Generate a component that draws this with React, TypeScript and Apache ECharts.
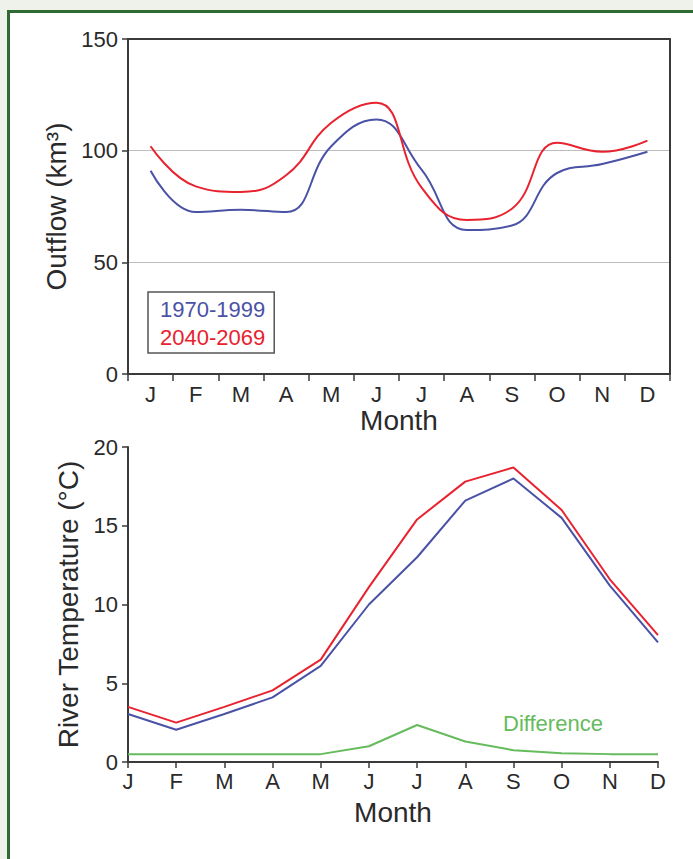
import React, { useEffect, useRef } from "react";
import * as echarts from "echarts";

const monthNames = ["Jan", "Feb", "Mar", "Apr", "May", "Jun", "Jul", "Aug", "Sep", "Oct", "Nov", "Dec"];
const monthLabels = ["J", "F", "M", "A", "M", "J", "J", "A", "S", "O", "N", "D"];

const periodNames = ["1970-1999", "2040-2069"];

// Outflow (km³)
const outflow1970 = [91, 72.5, 73.5, 72.5, 102, 114, 91.5, 64.5, 66.5, 90, 94, 99.5];
const outflow2040 = [102, 84, 81.5, 89, 112.5, 121.5, 83.5, 69, 74, 103.5, 99.5, 104.5];

// River temperature (°C)
const temp1970 = [3.05, 2.05, 3.05, 4.1, 6.1, 10.0, 13.0, 16.6, 18.0, 15.5, 11.2, 7.6];
const temp2040 = [3.5, 2.5, 3.5, 4.55, 6.5, 11.1, 15.4, 17.8, 18.7, 16.0, 11.6, 8.05];
const tempDiff = [0.5, 0.5, 0.5, 0.5, 0.5, 1.0, 2.35, 1.3, 0.75, 0.55, 0.5, 0.5];

const BLUE = "#4a52a6";
const RED = "#e8222f";
const GREEN = "#66bb5c";
const AXIS = "#3a3a3a";
const TEXT = "#2a2a2a";
const FONT = "'Liberation Sans', Arial, Helvetica, sans-serif";

export default function App() {
  const ref = useRef<HTMLDivElement>(null);

  useEffect(() => {
    if (!ref.current) return;
    const chart = echarts.init(ref.current, undefined, { renderer: "svg" });
    const axisLine = { show: true, onZero: false, lineStyle: { color: AXIS, width: 2 } };
    const tickStyle = { color: AXIS, width: 1.5 };
    const labelStyle = { color: TEXT, fontSize: 22, fontFamily: FONT };
    const nameStyle = { color: TEXT, fontSize: 28, fontFamily: FONT };

    chart.setOption({
      animation: false,
      backgroundColor: "transparent",
      textStyle: { fontFamily: FONT },
      grid: [
        { left: 128, top: 39, width: 542, height: 335, containLabel: false },
        { left: 128, top: 447, width: 530, height: 315, containLabel: false },
      ],
      legend: {
        left: 148,
        top: 292,
        orient: "vertical",
        icon: "rect",
        itemWidth: 0,
        itemHeight: 0,
        itemGap: 6,
        padding: [6, 9, 5, 7],
        borderColor: "#555",
        borderWidth: 1.5,
        backgroundColor: "#fff",
        selectedMode: false,
        textStyle: { fontSize: 22, fontFamily: FONT },
        data: [
          { name: periodNames[0], textStyle: { color: BLUE } },
          { name: periodNames[1], textStyle: { color: RED } },
        ],
      },
      xAxis: [
        {
          type: "category",
          gridIndex: 0,
          data: monthNames,
          boundaryGap: true,
          name: "Month",
          nameLocation: "middle",
          nameGap: 32,
          nameTextStyle: nameStyle,
          axisLine,
          axisTick: { show: true, length: 7, lineStyle: tickStyle },
          axisLabel: { ...labelStyle, margin: 9, formatter: (_v: string, i: number) => monthLabels[i] },
          splitLine: { show: false },
        },
        {
          type: "category",
          gridIndex: 0,
          data: monthNames,
          position: "top",
          z: 5,
          axisLine,
          axisTick: { show: false },
          axisLabel: { show: false },
          splitLine: { show: false },
        },
        {
          type: "category",
          gridIndex: 1,
          data: monthNames,
          boundaryGap: false,
          name: "Month",
          nameLocation: "middle",
          nameGap: 36,
          nameTextStyle: nameStyle,
          axisLine,
          axisTick: { show: true, length: 6, lineStyle: tickStyle },
          axisLabel: { ...labelStyle, margin: 8, formatter: (_v: string, i: number) => monthLabels[i] },
          splitLine: { show: false },
        },
      ],
      yAxis: [
        {
          type: "value",
          gridIndex: 0,
          min: 0,
          max: 150,
          interval: 50,
          name: "Outflow (km³)",
          nameLocation: "middle",
          nameGap: 58,
          nameTextStyle: nameStyle,
          axisLine,
          axisTick: { show: true, length: 6, lineStyle: tickStyle },
          axisLabel: { ...labelStyle, margin: 10 },
          splitLine: {
            show: true,
            lineStyle: { color: ["rgba(0,0,0,0)", "#bdbdbd", "#bdbdbd", "rgba(0,0,0,0)"], width: 1.2 },
          },
        },
        {
          type: "value",
          gridIndex: 0,
          min: 0,
          max: 150,
          interval: 50,
          position: "right",
          z: 5,
          axisLine,
          axisTick: { show: false },
          axisLabel: { show: false },
          splitLine: { show: false },
        },
        {
          type: "value",
          gridIndex: 1,
          min: 0,
          max: 20,
          interval: 5,
          name: "River Temperature (°C)",
          nameLocation: "middle",
          nameGap: 44,
          nameTextStyle: nameStyle,
          axisLine,
          axisTick: { show: true, length: 6, lineStyle: tickStyle },
          axisLabel: { ...labelStyle, margin: 10 },
          splitLine: { show: false },
        },
      ],
      graphic: [
        {
          type: "text",
          left: 503,
          top: 712,
          style: { text: "Difference", fill: GREEN, fontSize: 22, fontFamily: FONT },
        },
      ],
      series: [
        {
          name: periodNames[0],
          type: "line",
          xAxisIndex: 0,
          yAxisIndex: 0,
          data: outflow1970,
          smooth: 0.45,
          showSymbol: false,
          lineStyle: { color: BLUE, width: 2 },
          itemStyle: { color: BLUE },
        },
        {
          name: periodNames[1],
          type: "line",
          xAxisIndex: 0,
          yAxisIndex: 0,
          data: outflow2040,
          smooth: 0.45,
          showSymbol: false,
          lineStyle: { color: RED, width: 2 },
          itemStyle: { color: RED },
        },
        {
          name: "Difference",
          type: "line",
          xAxisIndex: 2,
          yAxisIndex: 2,
          data: tempDiff,
          showSymbol: false,
          lineStyle: { color: GREEN, width: 2 },
          itemStyle: { color: GREEN },
        },
        {
          name: periodNames[0],
          type: "line",
          xAxisIndex: 2,
          yAxisIndex: 2,
          data: temp1970,
          showSymbol: false,
          lineStyle: { color: BLUE, width: 2 },
          itemStyle: { color: BLUE },
        },
        {
          name: periodNames[1],
          type: "line",
          xAxisIndex: 2,
          yAxisIndex: 2,
          data: temp2040,
          showSymbol: false,
          lineStyle: { color: RED, width: 2 },
          itemStyle: { color: RED },
        },
      ],
    });
    return () => chart.dispose();
  }, []);

  return (
    <div style={{ position: "fixed", left: 0, top: 0, width: 693, height: 859, background: "#eff1eb", overflow: "hidden" }}>
      <div
        style={{
          position: "absolute",
          left: 7,
          top: 10,
          width: 720,
          height: 880,
          background: "#fff",
          border: "3px solid #2f6a33",
          boxSizing: "border-box",
        }}
      />
      <div ref={ref} style={{ position: "absolute", left: 0, top: 0, width: 693, height: 859 }} />
    </div>
  );
}
